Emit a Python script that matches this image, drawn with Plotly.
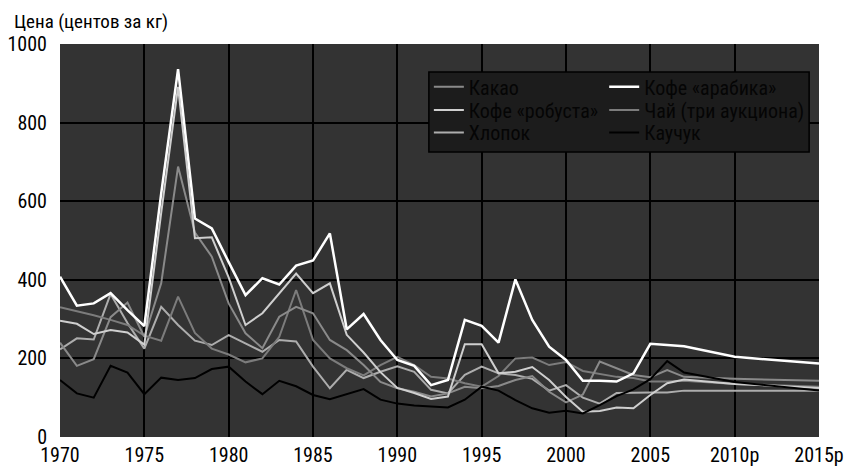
import plotly.graph_objects as go

years = list(range(1970, 2008)) + [2010, 2015]

cocoa = [240, 181, 198, 305, 342, 255, 391, 688, 520, 459, 340, 264, 226, 306, 331, 315, 247, 221, 183, 140,
         124, 115, 103, 111, 128, 124, 130, 145, 155, 115, 88, 108, 192, 175, 158, 152, 170, 153, 148, 143]
arabica = [408, 334, 340, 366, 323, 282, 620, 936, 556, 531, 445, 361, 404, 388, 436, 449, 518, 274, 313, 247,
           196, 181, 132, 145, 298, 283, 240, 401, 298, 230, 196, 143, 143, 141, 162, 237, 234, 231, 204, 187]
robusta = [296, 288, 262, 272, 266, 235, 570, 891, 506, 508, 406, 285, 315, 366, 416, 366, 391, 260, 215, 165,
           125, 112, 97, 103, 236, 236, 162, 166, 178, 145, 102, 64, 66, 75, 73, 107, 137, 146, 135, 125]
tea = [330, 320, 310, 298, 285, 258, 245, 357, 265, 225, 210, 190, 200, 255, 374, 247, 200, 175, 157, 183,
       204, 183, 153, 149, 137, 128, 155, 200, 202, 183, 191, 168, 160, 153, 150, 141, 141, 143, 135, 128]
cotton = [223, 251, 248, 364, 290, 225, 331, 285, 245, 234, 259, 238, 217, 247, 243, 179, 124, 171, 150, 166,
          180, 166, 120, 111, 158, 179, 162, 158, 148, 118, 132, 100, 85, 112, 113, 113, 113, 118, 118, 118]
rubber = [145, 111, 100, 181, 164, 109, 151, 145, 150, 173, 179, 141, 109, 143, 129, 107, 96, 109, 122, 95,
          85, 80, 77, 75, 95, 128, 118, 94, 73, 62, 67, 60, 81, 104, 121, 147, 193, 164, 140, 118]

names = ["Какао", "Кофе «арабика»", "Кофе «робуста»", "Чай (три аукциона)", "Хлопок", "Каучук"]
series = [cocoa, arabica, robusta, tea, cotton, rubber]
colors = ["#8a8a8a", "#ffffff", "#cfcfcf", "#7c7c7c", "#adadad", "#000000"]
widths = [2, 2.5, 2, 2, 2, 2]
draw_order = [4, 3, 0, 2, 5, 1]

xtickvals = [1970, 1975, 1980, 1985, 1990, 1995, 2000, 2005, 2010, 2015]
xticktext = ["1970", "1975", "1980", "1985", "1990", "1995", "2000", "2005", "2010р", "2015р"]
ytickvals = [0, 200, 400, 600, 800, 1000]

FONT = "Liberation Sans Narrow, Roboto Condensed, Arial Narrow, sans-serif"

# legend cells: two columns, three rows (row-major by series order)
leg_cols = [0.486, 0.717]
leg_rows = [0.891, 0.832, 0.775]
leg_font = dict(family=FONT, size=20, color="#050505")

fig = go.Figure()
legends = {}
for i in draw_order:
    key = "legend" if i == 0 else "legend%d" % (i + 1)
    fig.add_trace(go.Scatter(
        x=years, y=series[i], name=names[i], mode="lines",
        line=dict(color=colors[i], width=widths[i]),
        legend=key,
    ))
    legends[key] = dict(x=leg_cols[i % 2], y=leg_rows[i // 2], xanchor="left", yanchor="middle",
                        bgcolor="rgba(0,0,0,0)", borderwidth=0, font=leg_font)

# plot area in page coords: left 52, right 811, top 36, bottom 429
fig.update_layout(
    width=854, height=466,
    margin=dict(l=52, r=43, t=36, b=37, autoexpand=False),
    paper_bgcolor="white", plot_bgcolor="#333333",
    font=dict(family=FONT, size=20, color="black"),
    showlegend=True,
    title=dict(text="Цена (центов за кг)", xref="container", x=0.007, xanchor="left",
               yref="container", y=0.972, yanchor="middle",
               font=dict(family=FONT, size=19, color="black")),
    xaxis=dict(range=[1970, 2015], tickvals=xtickvals, ticktext=xticktext,
               showgrid=True, gridcolor="black", gridwidth=2, zeroline=False,
               showline=False, ticks="", ticklabelstandoff=4, automargin=False),
    yaxis=dict(range=[0, 1000], tickvals=ytickvals,
               showgrid=True, gridcolor="black", gridwidth=2, zeroline=False,
               showline=False, ticks="", ticklabelstandoff=12, automargin=False),
    shapes=[dict(type="rect", xref="paper", yref="paper",
                 x0=0.486, x1=0.987, y0=0.725, y1=0.929,
                 fillcolor="#1c1c1c", line=dict(color="black", width=1.5),
                 layer="above")],
)
fig.update_layout(**legends)

fig.write_html("out.html")
